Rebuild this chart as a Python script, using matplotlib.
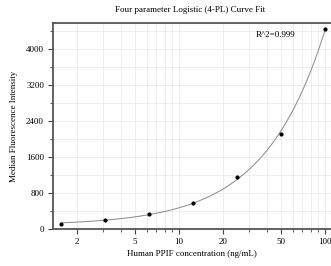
import numpy as np
import matplotlib
matplotlib.use('Agg')
import matplotlib.pyplot as plt
from matplotlib.ticker import FixedLocator, NullFormatter, MultipleLocator

plt.rcParams['font.family'] = ['Liberation Serif', 'DejaVu Serif']

# standard curve points
conc = [1.5625, 3.125, 6.25, 12.5, 25, 50, 100]
mfi = [118, 193, 340, 571, 1155, 2111, 4437]
r2_text = 'R^2=0.999'

x = np.array(conc)
y = np.array(mfi, dtype=float)

# 4-PL fit: y = d + (a-d)/(1+(x/c)^b); grid over b, c and solve a, d linearly
best = None
for b in np.linspace(0.3, 4, 150):
    for c in np.logspace(0.5, 5, 200):
        g = 1.0 / (1.0 + (x / c) ** b)
        A = np.column_stack([g, 1 - g])
        coef, *_ = np.linalg.lstsq(A, y, rcond=None)
        err = np.sum((A @ coef - y) ** 2)
        if best is None or err < best[0]:
            best = (err, b, c, coef[0], coef[1])
_, b, c, a, d = best
xs = np.logspace(np.log10(conc[0]), np.log10(conc[-1]), 300)
ys = d + (a - d) / (1 + (xs / c) ** b)

fig = plt.figure(figsize=(3.31, 2.66), dpi=100)
ax = fig.add_axes([0.160, 0.139, 0.84, 0.775])

ax.plot(xs, ys, color='#888888', lw=0.7)
ax.scatter(x, y, s=4, color='black', zorder=3)

ax.set_xscale('log')
ax.set_xlim(1.37, 110)
ax.set_ylim(0, 4580)

ax.xaxis.set_major_locator(FixedLocator([2, 5, 10, 20, 50, 100]))
ax.xaxis.set_major_formatter(matplotlib.ticker.FixedFormatter(['2', '5', '10', '20', '50', '100']))
ax.xaxis.set_minor_locator(FixedLocator([3, 4, 6, 7, 8, 9, 30, 40, 60, 70, 80, 90]))
ax.xaxis.set_minor_formatter(NullFormatter())
ax.yaxis.set_major_locator(MultipleLocator(800))
ax.yaxis.set_minor_locator(MultipleLocator(400))

ax.grid(True, which='both', color='#e8e8e8', lw=0.5)
ax.set_axisbelow(True)

for s in ['left', 'bottom', 'top']:
    ax.spines[s].set_color('#555555')
    ax.spines[s].set_linewidth(1.3)
ax.spines['right'].set_visible(False)

ax.tick_params(which='major', length=3.5, width=0.8, color='#444444', labelsize=6.5, pad=3)
ax.tick_params(which='minor', length=2, width=0.6, color='#444444')
ax.tick_params(axis='x', which='both', top=False)

ax.set_xlabel('Human PPIF concentration (ng/mL)', fontsize=6.5, labelpad=3)
ax.set_ylabel('Median Fluorescence Intensity', fontsize=6.5, labelpad=6)
fig.text(0.575, 0.962, 'Four parameter Logistic (4-PL) Curve Fit', fontsize=6.5, ha='center', va='center')
ax.text(0.80, 0.94, r2_text, transform=ax.transAxes, fontsize=6.5, ha='center', va='center')

fig.savefig('out.png', dpi=100)
